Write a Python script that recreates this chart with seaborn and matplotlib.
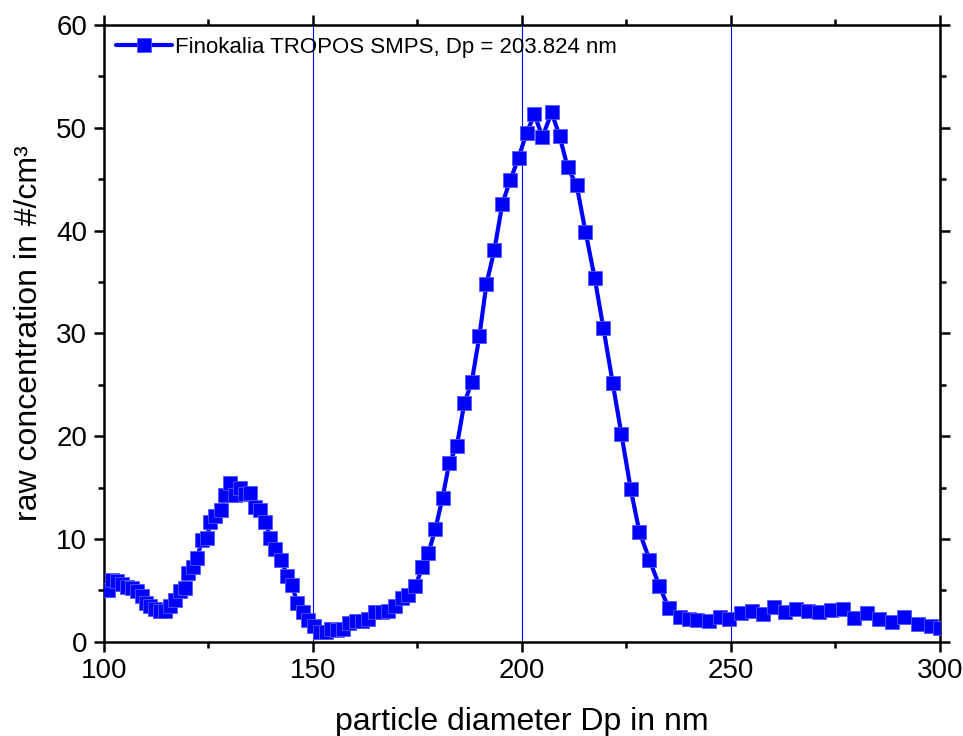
import numpy as np
import pandas as pd
import matplotlib
matplotlib.use('Agg')
import matplotlib.pyplot as plt
from matplotlib.ticker import MultipleLocator
import seaborn as sns

# particle diameter (nm) and raw concentration (#/cm3)
diameter = [101.0, 101.8, 103.0, 104.2, 105.4, 106.6, 107.8, 109.0, 110.0, 111.0,
            112.2, 113.4, 114.6, 115.8, 117.0, 118.2, 119.4, 120.1, 121.3, 122.3,
            123.5, 124.7, 125.4, 126.6, 128.0, 129.0, 130.2, 131.4, 132.6, 133.8,
            135.0, 136.2, 137.4, 138.6, 139.8, 141.0, 142.4, 143.8, 145.0, 146.2,
            147.6, 148.9, 150.3, 151.6, 153.0, 154.4, 155.8, 157.2, 158.7, 160.2,
            161.7, 163.2, 164.8, 166.4, 168.0, 169.6, 171.2, 172.8, 174.5, 176.2,
            177.6, 179.3, 181.0, 182.6, 184.4, 186.2, 188.0, 189.8, 191.5, 193.4,
            195.3, 197.2, 199.2, 201.1, 203.0, 204.9, 207.1, 209.0, 210.9, 213.1,
            215.2, 217.4, 219.5, 221.7, 223.8, 226.0, 228.1, 230.5, 232.9, 235.1,
            237.7, 239.9, 242.0, 244.8, 247.3, 249.5, 252.3, 255.0, 257.6, 260.2,
            262.9, 265.5, 268.4, 271.0, 273.9, 276.8, 279.4, 282.5, 285.4, 288.5,
            291.4, 294.7, 297.8, 300.0]
concentration = [5.0, 6.0, 5.9, 5.6, 5.3, 5.2, 4.9, 4.5, 3.8, 3.5,
                 3.2, 3.0, 3.0, 3.5, 4.1, 4.9, 5.2, 6.7, 7.3, 8.2,
                 9.9, 10.1, 11.7, 12.2, 12.8, 14.3, 15.4, 14.3, 15.0, 14.4,
                 14.5, 13.1, 12.8, 11.7, 10.1, 9.0, 8.0, 6.4, 5.5, 3.8,
                 2.9, 2.1, 1.5, 1.0, 1.0, 1.2, 1.1, 1.2, 1.8, 2.0,
                 2.0, 2.2, 2.9, 2.9, 3.0, 3.5, 4.3, 4.6, 5.4, 7.3,
                 8.6, 11.0, 14.0, 17.4, 19.0, 23.2, 25.3, 29.7, 34.8, 38.1,
                 42.6, 44.9, 47.1, 49.5, 51.3, 49.1, 51.5, 49.2, 46.2, 44.4,
                 39.9, 35.4, 30.5, 25.2, 20.2, 14.9, 10.7, 8.0, 5.4, 3.3,
                 2.4, 2.2, 2.1, 2.0, 2.4, 2.2, 2.8, 3.0, 2.7, 3.4,
                 2.9, 3.2, 3.0, 2.9, 3.1, 3.2, 2.3, 2.8, 2.2, 1.9,
                 2.4, 1.7, 1.5, 1.3]
guide_lines = [150, 200, 250]
series_label = 'Finokalia TROPOS SMPS, Dp = 203.824 nm'

df = pd.DataFrame({'dp': diameter, 'conc': concentration})

sns.set_style('ticks')
plt.rcParams['font.family'] = ['Liberation Sans', 'DejaVu Sans']

fig = plt.figure(figsize=(9.63, 7.36), dpi=100)
ax = fig.add_axes([0.108, 0.128, 0.868, 0.838])

for xv in guide_lines:
    ax.axvline(xv, color='#0000ff', lw=0.8, zorder=1)

sns.lineplot(data=df, x='dp', y='conc', ax=ax, sort=False, estimator=None,
             color='#0000ff', lw=3, marker='s', markersize=10,
             markeredgecolor='#5555ff', markeredgewidth=0.6,
             label=series_label, zorder=3)

ax.set_xlim(100, 300)
ax.set_ylim(0, 60)
ax.xaxis.set_major_locator(MultipleLocator(50))
ax.xaxis.set_minor_locator(MultipleLocator(25))
ax.yaxis.set_major_locator(MultipleLocator(10))
ax.yaxis.set_minor_locator(MultipleLocator(5))

for s in ax.spines.values():
    s.set_visible(True)
    s.set_linewidth(1.8)
    s.set_color('black')
ax.tick_params(which='both', direction='out', top=True, right=True,
               width=1.8, color='black', labelcolor='black', labelsize=20)
ax.tick_params(which='major', length=7, pad=5)
ax.tick_params(which='minor', length=4)

ax.set_xlabel('particle diameter Dp in nm', fontsize=23, labelpad=16, color='black')
ax.set_ylabel('raw concentration in #/cm³', fontsize=23, labelpad=9, color='black')

leg = ax.legend(loc='upper left', frameon=False, fontsize=16,
                handlelength=2.5, handletextpad=0.15,
                borderaxespad=0.15)
for t in leg.get_texts():
    t.set_color('black')

fig.savefig('out.png', dpi=100)
